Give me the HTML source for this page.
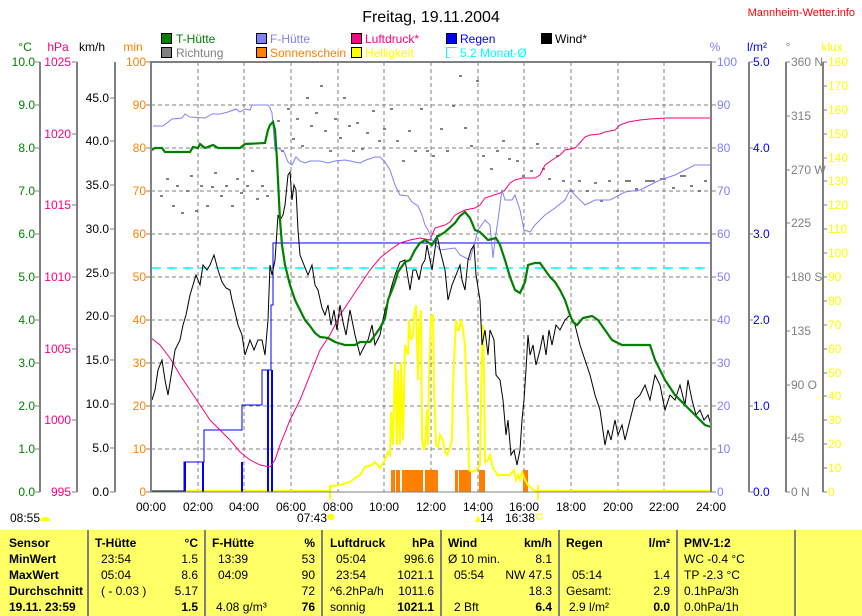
<!DOCTYPE html>
<html><head><meta charset="utf-8"><style>
body{margin:0;background:#fff;width:862px;height:616px;overflow:hidden;font-family:"Liberation Sans",sans-serif}
svg{position:absolute;left:0;top:0}
text{font-family:"Liberation Sans",sans-serif}
</style></head><body>
<svg width="862" height="616" viewBox="0 0 862 616" font-size="12">
<text x="431" y="22" font-size="16" text-anchor="middle">Freitag, 19.11.2004</text>
<text x="855" y="16" font-size="11" fill="#ff0000" text-anchor="end">Mannheim-Wetter.info</text>
<!-- legend -->
<g font-size="12">
<rect x="161.5" y="33.5" width="10" height="10" fill="#008000" stroke="#000"/><text x="176" y="43" fill="#008000">T-Hütte</text>
<rect x="161.5" y="47.5" width="10" height="10" fill="#808080" stroke="#000"/><text x="176" y="57" fill="#808080">Richtung</text>
<rect x="256.5" y="33.5" width="10" height="10" fill="#8080ff" stroke="#000"/><text x="270" y="43" fill="#8080ff">F-Hütte</text>
<rect x="256.5" y="47.5" width="10" height="10" fill="#ff8000" stroke="#000"/><text x="270" y="57" fill="#ff8000">Sonnenschein</text>
<rect x="351.5" y="33.5" width="10" height="10" fill="#ff0080" stroke="#000"/><text x="365" y="43" fill="#ff0080">Luftdruck*</text>
<rect x="351.5" y="47.5" width="10" height="10" fill="#ffff00" stroke="#000"/><text x="365" y="57" fill="#ffff00">Helligkeit</text>
<rect x="446.5" y="33.5" width="10" height="10" fill="#0000ff" stroke="#000"/><text x="460" y="43" fill="#0000ff">Regen</text>
<path d="M446.5 47.5h10M446.5 47.5v10h3" stroke="#00ffff" fill="none"/><text x="460" y="57" fill="#00ffff">5.2 Monat-Ø</text>
<rect x="541.5" y="33.5" width="10" height="10" fill="#000" stroke="#000"/><text x="555" y="43" fill="#000">Wind*</text>
</g>
<!-- unit headers -->
<text x="25" y="51" fill="#008000" text-anchor="middle">°C</text>
<text x="58" y="51" fill="#ff0080" text-anchor="middle">hPa</text>
<text x="92" y="51" text-anchor="middle">km/h</text>
<text x="133" y="51" fill="#ff8000" text-anchor="middle">min</text>
<text x="715" y="51" fill="#8080ff" text-anchor="middle">%</text>
<text x="757" y="51" fill="#0000ff" text-anchor="middle">l/m²</text>
<text x="788" y="51" fill="#808080" text-anchor="middle">°</text>
<text x="832" y="51" fill="#ffff00" text-anchor="middle">klux</text>
<!-- axis lines -->
<g stroke="#808080" stroke-width="2">
<line x1="40" y1="62" x2="40" y2="492"/><line x1="77" y1="62" x2="77" y2="492"/><line x1="115" y1="62" x2="115" y2="492"/>
<line x1="749" y1="62" x2="749" y2="492"/><line x1="786" y1="62" x2="786" y2="492"/><line x1="823" y1="62" x2="823" y2="492"/>
</g>
<!-- left tick labels -->
<g fill="#008000" text-anchor="end">
<text x="35" y="66">10.0</text><text x="35" y="109">9.0</text><text x="35" y="152">8.0</text><text x="35" y="195">7.0</text><text x="35" y="238">6.0</text><text x="35" y="281">5.0</text><text x="35" y="324">4.0</text><text x="35" y="367">3.0</text><text x="35" y="410">2.0</text><text x="35" y="453">1.0</text><text x="35" y="496">0.0</text>
</g>
<g stroke="#808080"><path d="M35 62h5M35 105h5M35 148h5M35 191h5M35 234h5M35 277h5M35 320h5M35 363h5M35 406h5M35 449h5M35 492h5M72 62h5M72 134h5M72 205h5M72 277h5M72 349h5M72 420h5M72 492h5M110 98h5M110 141h5M110 185h5M110 229h5M110 273h5M110 316h5M110 360h5M110 404h5M110 448h5M110 492h5M146 62h5M146 105h5M146 148h5M146 191h5M146 234h5M146 277h5M146 320h5M146 363h5M146 406h5M146 449h5M146 492h5"/></g>
<g fill="#ff0080" text-anchor="end">
<text x="71" y="66">1025</text><text x="71" y="138">1020</text><text x="71" y="209">1015</text><text x="71" y="281">1010</text><text x="71" y="353">1005</text><text x="71" y="424">1000</text><text x="71" y="496">995</text>
</g>
<g text-anchor="end">
<text x="109" y="102">45.0</text><text x="109" y="145">40.0</text><text x="109" y="189">35.0</text><text x="109" y="233">30.0</text><text x="109" y="277">25.0</text><text x="109" y="320">20.0</text><text x="109" y="364">15.0</text><text x="109" y="408">10.0</text><text x="109" y="452">5.0</text><text x="109" y="496">0.0</text>
</g>
<g fill="#ff8000" text-anchor="end">
<text x="146" y="66">100</text><text x="146" y="109">90</text><text x="146" y="152">80</text><text x="146" y="195">70</text><text x="146" y="238">60</text><text x="146" y="281">50</text><text x="146" y="324">40</text><text x="146" y="367">30</text><text x="146" y="410">20</text><text x="146" y="453">10</text><text x="146" y="496">0</text>
</g>
<!-- right ticks -->
<g stroke="#808080"><path d="M711 62h5M711 105h5M711 148h5M711 191h5M711 234h5M711 277h5M711 320h5M711 363h5M711 406h5M711 449h5M711 492h5M749 62h4M749 148h4M749 234h4M749 320h4M749 406h4M749 492h4M786 62h4M786 116h4M786 170h4M786 223h4M786 277h4M786 331h4M786 385h4M786 438h4M786 492h4"/>
<path d="M823 62h4M823 86h4M823 110h4M823 134h4M823 158h4M823 181h4M823 205h4M823 229h4M823 253h4M823 277h4M823 301h4M823 325h4M823 349h4M823 373h4M823 396h4M823 420h4M823 444h4M823 468h4M823 492h4"/></g>
<g fill="#8080ff">
<text x="717" y="66">100</text><text x="717" y="109">90</text><text x="717" y="152">80</text><text x="717" y="195">70</text><text x="717" y="238">60</text><text x="717" y="281">50</text><text x="717" y="324">40</text><text x="717" y="367">30</text><text x="717" y="410">20</text><text x="717" y="453">10</text><text x="717" y="496">0</text>
</g>
<g fill="#0000ff">
<text x="753" y="66">5.0</text><text x="753" y="152">4.0</text><text x="753" y="238">3.0</text><text x="753" y="324">2.0</text><text x="753" y="410">1.0</text><text x="753" y="496">0.0</text>
</g>
<g fill="#808080">
<text x="791" y="66">360 N</text><text x="791" y="120">315</text><text x="791" y="174">270 W</text><text x="791" y="227">225</text><text x="791" y="281">180 S</text><text x="791" y="335">135</text><text x="791" y="389">90 O</text><text x="791" y="442">45</text><text x="791" y="496">0 N</text>
</g>
<g fill="#ffff00">
<text x="828" y="66">180</text><text x="828" y="90">170</text><text x="828" y="114">160</text><text x="828" y="138">150</text><text x="828" y="162">140</text><text x="828" y="185">130</text><text x="828" y="209">120</text><text x="828" y="233">110</text><text x="828" y="257">100</text><text x="828" y="281">90</text><text x="828" y="305">80</text><text x="828" y="329">70</text><text x="828" y="353">60</text><text x="828" y="377">50</text><text x="828" y="400">40</text><text x="828" y="424">30</text><text x="828" y="448">20</text><text x="828" y="472">10</text><text x="828" y="496">0</text>
</g>
<!-- grid -->
<g stroke="#808080" stroke-dasharray="4,3">
<path d="M198 62V492M244 62V492M291 62V492M338 62V492M384 62V492M431 62V492M478 62V492M524 62V492M571 62V492M618 62V492M664 62V492"/>
<path d="M151 105H711M151 148H711M151 191H711M151 234H711M151 277H711M151 320H711M151 363H711M151 406H711M151 449H711"/>
</g>
<!-- direction dots -->
<g fill="#808080">
<rect x="160" y="195" width="3" height="2"/><rect x="166" y="178" width="3" height="2"/><rect x="172" y="205" width="3" height="2"/><rect x="176" y="185" width="3" height="2"/><rect x="181" y="212" width="3" height="2"/><rect x="186" y="190" width="3" height="2"/><rect x="190" y="175" width="3" height="2"/><rect x="195" y="210" width="3" height="2"/><rect x="200" y="185" width="3" height="2"/><rect x="206" y="205" width="3" height="2"/><rect x="211" y="186" width="3" height="2"/><rect x="214" y="172" width="3" height="2"/><rect x="220" y="195" width="3" height="2"/><rect x="225" y="185" width="3" height="2"/><rect x="231" y="205" width="3" height="2"/><rect x="236" y="178" width="3" height="2"/><rect x="240" y="192" width="3" height="2"/><rect x="246" y="185" width="3" height="2"/><rect x="251" y="170" width="3" height="2"/><rect x="256" y="198" width="3" height="2"/><rect x="261" y="185" width="3" height="2"/><rect x="266" y="195" width="3" height="2"/><rect x="277" y="120" width="3" height="2"/><rect x="281" y="150" width="3" height="2"/><rect x="287" y="108" width="3" height="2"/><rect x="292" y="138" width="3" height="2"/><rect x="296" y="118" width="3" height="2"/><rect x="301" y="145" width="3" height="2"/><rect x="306" y="97" width="3" height="2"/><rect x="310" y="125" width="3" height="2"/><rect x="315" y="112" width="3" height="2"/><rect x="320" y="85" width="3" height="2"/><rect x="324" y="130" width="3" height="2"/><rect x="329" y="150" width="3" height="2"/><rect x="334" y="118" width="3" height="2"/><rect x="339" y="137" width="3" height="2"/><rect x="343" y="97" width="3" height="2"/><rect x="348" y="125" width="3" height="2"/><rect x="352" y="150" width="3" height="2"/><rect x="356" y="122" width="3" height="2"/><rect x="361" y="148" width="3" height="2"/><rect x="366" y="132" width="3" height="2"/><rect x="372" y="110" width="3" height="2"/><rect x="378" y="140" width="3" height="2"/><rect x="383" y="128" width="3" height="2"/><rect x="390" y="108" width="3" height="2"/><rect x="396" y="140" width="3" height="2"/><rect x="402" y="160" width="3" height="2"/><rect x="408" y="130" width="3" height="2"/><rect x="414" y="150" width="3" height="2"/><rect x="420" y="108" width="3" height="2"/><rect x="426" y="150" width="3" height="2"/><rect x="432" y="155" width="3" height="2"/><rect x="440" y="128" width="3" height="2"/><rect x="446" y="150" width="3" height="2"/><rect x="452" y="105" width="3" height="2"/><rect x="459" y="75" width="3" height="2"/><rect x="464" y="127" width="3" height="2"/><rect x="470" y="145" width="3" height="2"/><rect x="476" y="80" width="3" height="2"/><rect x="482" y="155" width="3" height="2"/><rect x="490" y="168" width="3" height="2"/><rect x="496" y="150" width="3" height="2"/><rect x="502" y="140" width="3" height="2"/><rect x="508" y="158" width="3" height="2"/><rect x="516" y="160" width="3" height="2"/><rect x="522" y="175" width="3" height="2"/><rect x="530" y="170" width="3" height="2"/><rect x="536" y="143" width="3" height="2"/><rect x="542" y="168" width="3" height="2"/><rect x="548" y="178" width="3" height="2"/><rect x="556" y="155" width="3" height="2"/><rect x="562" y="180" width="3" height="2"/><rect x="570" y="190" width="3" height="2"/><rect x="578" y="180" width="3" height="2"/><rect x="586" y="190" width="3" height="2"/><rect x="594" y="182" width="3" height="2"/><rect x="600" y="200" width="3" height="2"/><rect x="608" y="180" width="3" height="2"/><rect x="616" y="190" width="3" height="2"/><rect x="625" y="180" width="6" height="2"/><rect x="635" y="188" width="3" height="2"/><rect x="645" y="180" width="10" height="2"/><rect x="660" y="178" width="6" height="2"/><rect x="672" y="187" width="3" height="2"/><rect x="680" y="175" width="6" height="2"/><rect x="690" y="185" width="3" height="2"/><rect x="698" y="190" width="3" height="2"/><rect x="704" y="180" width="3" height="2"/>
</g>
<!-- cyan monthly avg -->
<line x1="151" y1="268" x2="711" y2="268" stroke="#00ffff" stroke-width="1.5" stroke-dasharray="10,6"/>
<!-- sunshine -->
<g fill="#ff8000">
<rect x="391" y="470" width="4" height="22"/><rect x="396" y="470" width="4" height="22"/><rect x="402" y="470" width="21" height="22"/><rect x="425" y="470" width="3" height="22"/><rect x="428" y="470" width="10" height="22"/><rect x="455" y="470" width="3" height="22"/><rect x="459" y="470" width="12" height="22"/><rect x="479" y="470" width="6" height="22"/><rect x="523" y="470" width="5" height="22"/>
</g>
<!-- helligkeit -->
<polyline fill="none" stroke="#ffff00" stroke-width="2" points="151,491 330,491 331,486 340,485 350,482 355,478 360,475 365,467 372,465 375,462 380,468 385,460 388,452 390,455 391,412 393,445 395,362 397,445 398,370 400,445 401,362 403,440 405,345 408,355 409,320 411,340 413,335 414,315 416,305 418,380 419,330 420,320 421,310 422,440 424,450 425,445 427,410 428,445 429,380 431,316 433,315 434,390 436,445 438,447 440,435 443,440 445,452 447,455 450,448 452,440 453,385 455,340 456,320 457,330 459,330 461,320 463,330 465,345 466,375 468,420 469,470 472,472 476,470 480,465 481,400 482,350 483,325 484,370 485,462 488,460 490,455 492,465 494,470 496,472 498,476 500,475 510,475 514,470 516,480 518,475 520,480 522,472 525,480 528,485 533,490 538,491 711,491"/>
<line x1="330" y1="485" x2="330" y2="500" stroke="#ffff00" stroke-width="2"/>
<line x1="538" y1="485" x2="538" y2="500" stroke="#ffff00" stroke-width="2"/>
<!-- regen -->
<g stroke="#0000ff" stroke-width="2"><path d="M185 492V462M203 492V462M242 492V462M268 492V370M272 492V370"/></g>
<polyline fill="none" stroke="#0000ff" stroke-width="1" points="151,491 184,491 184,462 204,462 204,430 242,430 242,405 262,405 262,370 271,370 271,305 273,305 273,243 711,243"/>
<!-- luftdruck -->
<polyline fill="none" stroke="#ff0080" stroke-width="1" points="151,338 160,345 170,358 180,375 190,390 200,405 210,420 220,430 230,440 240,452 250,460 260,465 270,467 275,460 280,445 290,420 300,400 310,375 320,350 330,335 340,315 350,300 360,285 370,270 380,258 390,250 400,243 410,240 420,238 430,240 435,228 445,225 450,222 455,215 465,210 475,208 480,205 485,198 500,193 505,190 510,183 515,180 522,178 535,178 540,175 545,165 555,158 560,155 565,150 575,148 578,145 585,137 590,135 600,134 605,132 615,130 620,125 628,122 640,120 650,119 666,118 711,118"/>
<!-- f-huette -->
<polyline fill="none" stroke="#8080ff" stroke-width="1" points="153,126 163,126 172,119 182,118 185,114 190,117 205,118 212,114 220,114 228,112 236,109 240,112 245,109 250,110 252,105 268,105 270,108 272,113 273,125 275,150 278,148 284,152 288,162 292,165 296,157 300,161 305,163 310,161 320,161 328,163 335,161 345,160 350,161 360,163 366,160 375,157 380,157 385,162 390,170 395,185 400,195 408,196 412,202 418,206 422,215 425,225 428,230 430,235 432,240 440,250 455,248 460,255 470,260 478,230 485,220 490,225 493,258 495,240 498,220 500,205 502,190 505,200 512,200 515,195 520,210 524,230 530,232 535,225 545,215 555,208 565,200 570,190 575,195 585,205 595,200 610,200 625,192 640,190 650,185 660,180 675,175 695,165 711,165"/>
<!-- wind -->
<polyline fill="none" stroke="#000" stroke-width="1" points="152,400 155,390 158,370 162,360 165,380 168,395 172,370 175,350 180,340 183,325 186,315 190,295 193,285 196,275 200,285 203,265 207,270 210,265 214,255 218,270 222,282 226,288 230,290 232,300 235,312 238,325 242,335 245,355 250,340 254,350 258,340 262,340 265,355 268,320 270,265 272,275 275,260 278,215 280,220 283,215 285,205 288,175 290,172 292,200 294,185 296,190 298,230 300,255 304,265 308,275 312,265 315,285 318,290 322,308 325,315 328,305 331,325 334,310 337,330 340,305 343,322 346,335 350,310 355,335 360,355 365,345 368,340 372,325 375,345 380,335 385,310 388,300 392,285 395,275 400,262 405,260 410,290 413,270 416,270 419,280 422,265 425,260 427,245 432,270 437,235 440,250 445,270 448,300 452,285 456,275 460,265 462,280 465,290 468,260 471,250 474,245 476,275 480,300 482,345 485,330 488,355 490,330 494,340 496,375 500,380 503,400 506,435 508,420 511,455 514,450 517,465 520,450 522,420 524,400 526,370 528,335 530,355 533,345 536,365 540,350 543,335 546,355 549,330 552,345 556,325 560,330 565,320 570,315 575,325 580,345 585,360 590,375 595,395 600,410 605,445 608,430 611,440 615,420 618,435 622,425 625,440 630,420 635,400 640,395 645,385 650,400 655,375 660,385 665,410 670,395 675,400 680,385 685,405 688,380 692,400 696,415 700,410 704,420 708,415 711,425"/>
<!-- t-huette -->
<polyline fill="none" stroke="#008000" stroke-width="2.2" points="152,150 155,148 162,148 165,152 190,152 193,147 198,148 200,144 205,148 213,145 218,148 240,148 245,144 265,143 268,130 270,125 273,122 275,130 277,160 280,220 282,245 285,265 290,285 295,300 300,310 305,320 310,326 315,333 320,337 328,338 335,342 345,345 355,345 360,342 370,342 375,335 380,328 385,318 388,300 392,290 395,282 398,272 405,262 410,260 415,250 420,243 425,240 432,245 437,237 445,232 455,223 460,216 465,212 470,218 475,230 480,232 488,240 496,238 500,245 505,260 510,277 515,290 520,293 525,282 528,265 535,263 540,263 545,270 550,277 555,282 560,290 565,300 570,315 573,322 577,325 583,318 592,316 598,320 605,330 612,340 622,345 650,345 655,360 665,380 675,395 685,405 695,415 705,425 711,427"/>
<!-- plot frame -->
<path d="M151 492V62H711V492" fill="none" stroke="#808080" stroke-width="2"/>
<line x1="151" y1="492" x2="711" y2="492" stroke="#808080" stroke-width="1"/>
<!-- x labels -->
<g text-anchor="middle">
<text x="151" y="511">00:00</text><text x="198" y="511">02:00</text><text x="244" y="511">04:00</text><text x="291" y="511">06:00</text><text x="338" y="511">08:00</text><text x="384" y="511">10:00</text><text x="431" y="511">12:00</text><text x="478" y="511">14:00</text><text x="524" y="511">16:00</text><text x="571" y="511">18:00</text><text x="618" y="511">20:00</text><text x="664" y="511">22:00</text><text x="711" y="511">24:00</text>
</g>
<text x="10" y="522">08:55</text>
<path d="M40 521a5 4 0 0 1 10 0z" fill="#ffff00"/>
<text x="297" y="522">07:43</text>
<circle cx="331" cy="517" r="3.5" fill="#ffff00"/>
<text x="480" y="522">14</text><path d="M475 522l3-7 3 7z" fill="#ffff00"/>
<text x="505" y="522">16:38</text>
<rect x="537" y="514" width="5" height="5" fill="none" stroke="#ffff00"/>
<!-- table -->
<rect x="0" y="530" width="862" height="86" fill="#ffff66"/>
<g stroke="#808080" stroke-width="2"><path d="M88 530V616M205 530V616M322 530V616M441 530V616M559 530V616M677 530V616M795 530V616"/></g>
<g font-size="12">
<g font-weight="bold"><text x="9" y="547">Sensor</text><text x="9" y="563">MinWert</text><text x="9" y="579">MaxWert</text><text x="9" y="595">Durchschnitt</text><text x="9" y="611">19.11. 23:59</text></g>
<text x="95" y="547" font-weight="bold">T-Hütte</text><text x="198" y="547" font-weight="bold" text-anchor="end">°C</text>
<text x="101" y="563">23:54</text><text x="198" y="563" text-anchor="end">1.5</text>
<text x="101" y="579">05:04</text><text x="198" y="579" text-anchor="end">8.6</text>
<text x="101" y="595">( - 0.03 )</text><text x="198" y="595" text-anchor="end">5.17</text>
<text x="198" y="611" text-anchor="end" font-weight="bold">1.5</text>
<text x="212" y="547" font-weight="bold">F-Hütte</text><text x="315" y="547" font-weight="bold" text-anchor="end">%</text>
<text x="218" y="563">13:39</text><text x="315" y="563" text-anchor="end">53</text>
<text x="218" y="579">04:09</text><text x="315" y="579" text-anchor="end">90</text>
<text x="315" y="595" text-anchor="end">72</text>
<text x="216" y="611">4.08 g/m³</text><text x="315" y="611" text-anchor="end" font-weight="bold">76</text>
<text x="330" y="547" font-weight="bold">Luftdruck</text><text x="434" y="547" font-weight="bold" text-anchor="end">hPa</text>
<text x="336" y="563">05:04</text><text x="434" y="563" text-anchor="end">996.6</text>
<text x="336" y="579">23:54</text><text x="434" y="579" text-anchor="end">1021.1</text>
<text x="330" y="595">^6.2hPa/h</text><text x="434" y="595" text-anchor="end">1011.6</text>
<text x="330" y="611">sonnig</text><text x="434" y="611" text-anchor="end" font-weight="bold">1021.1</text>
<text x="448" y="547" font-weight="bold">Wind</text><text x="552" y="547" font-weight="bold" text-anchor="end">km/h</text>
<text x="448" y="563">Ø 10 min.</text><text x="552" y="563" text-anchor="end">8.1</text>
<text x="454" y="579">05:54</text><text x="552" y="579" text-anchor="end">NW 47.5</text>
<text x="552" y="595" text-anchor="end">18.3</text>
<text x="454" y="611">2 Bft</text><text x="552" y="611" text-anchor="end" font-weight="bold">6.4</text>
<text x="566" y="547" font-weight="bold">Regen</text><text x="670" y="547" font-weight="bold" text-anchor="end">l/m²</text>
<text x="572" y="579">05:14</text><text x="670" y="579" text-anchor="end">1.4</text>
<text x="566" y="595">Gesamt:</text><text x="670" y="595" text-anchor="end">2.9</text>
<text x="569" y="611">2.9 l/m²</text><text x="670" y="611" text-anchor="end" font-weight="bold">0.0</text>
<text x="684" y="547" font-weight="bold">PMV-1:2</text>
<text x="684" y="563">WC -0.4 °C</text>
<text x="684" y="579">TP -2.3 °C</text>
<text x="684" y="595">0.1hPa/3h</text>
<text x="684" y="611">0.0hPa/1h</text>
</g>
</svg>
</body></html>
